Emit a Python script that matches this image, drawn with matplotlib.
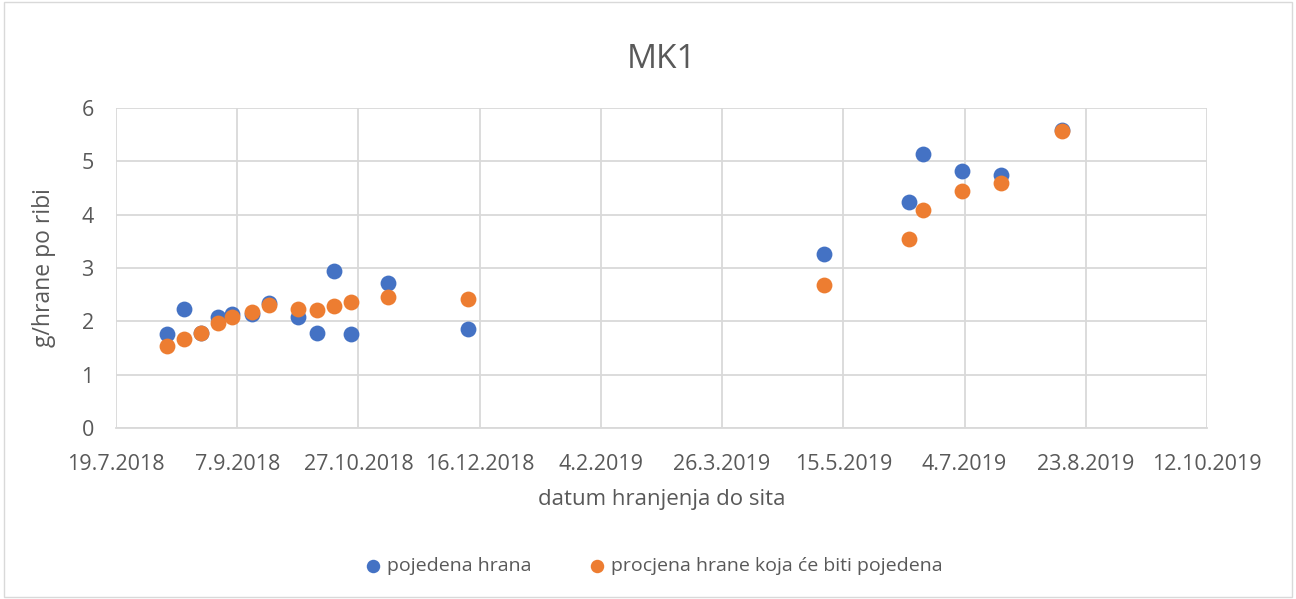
import numpy as np
import matplotlib.pyplot as plt
import matplotlib.dates as mdates
from matplotlib.patches import Rectangle

plt.rcParams["font.family"] = ["Open Sans", "DejaVu Sans"]

# feeding dates (shared by both series)
dates = ["2018-08-09", "2018-08-16", "2018-08-23", "2018-08-30", "2018-09-05",
         "2018-09-13", "2018-09-20", "2018-10-02", "2018-10-10", "2018-10-17",
         "2018-10-24", "2018-11-08", "2018-12-11", "2019-05-07", "2019-06-11",
         "2019-06-17", "2019-07-03", "2019-07-19", "2019-08-13"]

eaten = [1.76, 2.24, 1.78, 2.08, 2.13, 2.14, 2.35, 2.08, 1.78, 2.95,
         1.77, 2.71, 1.86, 3.26, 4.24, 5.13, 4.82, 4.75, 5.58]
estimate = [1.53, 1.67, 1.78, 1.97, 2.08, 2.17, 2.31, 2.23, 2.22, 2.29,
            2.36, 2.45, 2.42, 2.68, 3.54, 4.08, 4.44, 4.60, 5.56]

tick_dates = ["2018-07-19", "2018-09-07", "2018-10-27", "2018-12-16", "2019-02-04",
              "2019-03-26", "2019-05-15", "2019-07-04", "2019-08-23", "2019-10-12"]
tick_labels = ["19.7.2018", "7.9.2018", "27.10.2018", "16.12.2018", "4.2.2019",
               "26.3.2019", "15.5.2019", "4.7.2019", "23.8.2019", "12.10.2019"]

blue = "#4472C4"
orange = "#ED7D31"
text_color = "#595959"
grid_color = "#D9D9D9"

x = mdates.date2num(np.array(dates, dtype="datetime64[D]"))
xt = mdates.date2num(np.array(tick_dates, dtype="datetime64[D]"))

fig = plt.figure(figsize=(12.96, 5.99), dpi=100)
ax = fig.add_axes([0.0895, 0.2855, 0.8418, 0.5342])

ax.scatter(x, eaten, s=130, color=blue, label="pojedena hrana", zorder=3, linewidths=0)
ax.scatter(x, estimate, s=130, color=orange, label="procjena hrane koja će biti pojedena",
           zorder=4, linewidths=0)

ax.set_xlim(xt[0], xt[-1])
ax.set_ylim(0, 6)
ax.set_xticks(xt)
ax.set_xticklabels(tick_labels)
ax.set_yticks(range(0, 7))

ax.grid(True, color=grid_color, linewidth=1.3)
ax.set_axisbelow(True)
for side in ["top", "right", "left"]:
    ax.spines[side].set_visible(False)
ax.spines["bottom"].set_color(grid_color)
ax.spines["bottom"].set_linewidth(1.3)
ax.tick_params(length=0, colors=text_color, labelsize=15.5, pad=19)
ax.tick_params(axis="y", pad=16)

ax.set_title("MK1", fontsize=24, color=text_color, pad=29)
ax.set_xlabel("datum hranjenja do sita", fontsize=16, color=text_color, labelpad=10)
ax.set_ylabel("g/hrane po ribi", fontsize=16.5, color=text_color, labelpad=18)

fig.legend(loc="center", bbox_to_anchor=(0.5, 0.055), ncol=2, frameon=False,
           fontsize=14, labelcolor=text_color, handletextpad=-0.3, columnspacing=2.4,
           markerscale=0.85)

fig.patches.append(Rectangle((0.003, 0.003), 0.994, 0.994, transform=fig.transFigure,
                             fill=False, edgecolor=grid_color, linewidth=1))

fig.savefig("out.png", dpi=100)
